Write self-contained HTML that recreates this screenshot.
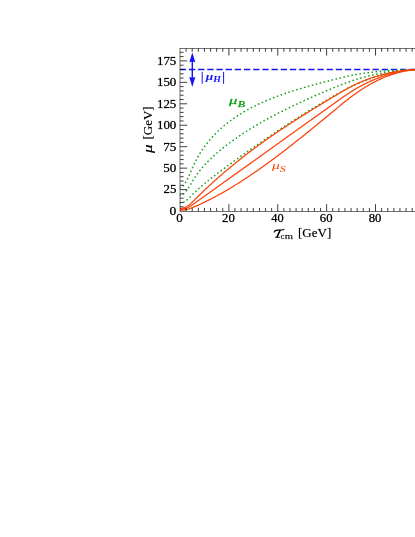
<!DOCTYPE html>
<html><head><meta charset="utf-8"><title>plot</title>
<style>
html,body{margin:0;padding:0;background:#fff;}
body{width:415px;height:537px;overflow:hidden;}
svg{display:block;will-change:transform;}
text{font-family:"Liberation Serif",serif;}
</style></head><body>
<svg width="415" height="537" viewBox="0 0 415 537">
<rect width="415" height="537" fill="#fff"/>
<path d="M180.0,69.48H424.38" stroke="#1414f5" stroke-width="1.3" stroke-dasharray="6.3 2.88" stroke-dashoffset="0.28" fill="none"/>
<g fill="none" stroke="#10a018" stroke-width="1.45" stroke-dasharray="1.55 2.53" stroke-dashoffset="0.8" stroke-linejoin="round">
<path d="M180.00,187.67 L180.61,187.64 L181.22,187.45 L181.83,187.13 L182.44,186.67 L183.05,186.09 L183.67,185.39 L184.28,184.58 L184.89,183.68 L185.50,182.70 L186.11,181.64 L186.72,180.51 L187.33,179.32 L187.94,178.09 L188.55,176.81 L189.16,175.49 L189.78,174.14 L190.39,172.75 L191.00,171.34 L191.61,169.91 L192.22,168.46 L192.83,167.03 L193.44,165.66 L194.05,164.33 L194.66,163.05 L195.27,161.81 L195.88,160.61 L196.50,159.45 L197.11,158.31 L197.72,157.21 L198.33,156.14 L198.94,155.10 L199.55,154.08 L200.16,153.08 L200.77,152.11 L201.38,151.17 L201.99,150.24 L202.60,149.33 L203.22,148.44 L203.83,147.57 L204.44,146.72 L205.05,145.88 L205.66,145.06 L206.27,144.26 L206.88,143.47 L207.49,142.70 L208.10,141.93 L208.71,141.19 L209.32,140.45 L209.94,139.73 L210.55,139.02 L211.16,138.32 L211.77,137.63 L212.38,136.95 L212.99,136.29 L213.60,135.63 L214.21,134.99 L214.82,134.35 L215.43,133.72 L216.05,133.10 L216.66,132.49 L217.27,131.89 L217.88,131.30 L218.49,130.72 L219.10,130.14 L219.71,129.58 L220.32,129.02 L220.93,128.46 L221.54,127.92 L222.15,127.38 L222.77,126.85 L223.38,126.32 L223.99,125.81 L224.60,125.29 L225.21,124.79 L225.82,124.29 L226.43,123.80 L227.04,123.31 L227.65,122.83 L228.26,122.36 L228.88,121.89 L229.49,121.42 L230.10,120.96 L230.71,120.51 L231.32,120.06 L231.93,119.62 L232.54,119.18 L233.15,118.75 L233.76,118.32 L234.37,117.89 L234.98,117.48 L235.60,117.06 L236.21,116.65 L236.82,116.25 L237.43,115.84 L238.04,115.45 L238.65,115.05 L239.26,114.66 L239.87,114.28 L240.48,113.90 L241.09,113.52 L241.70,113.15 L242.32,112.78 L242.93,112.41 L243.54,112.05 L244.15,111.69 L244.76,111.34 L245.37,110.98 L245.98,110.64 L246.59,110.29 L247.20,109.95 L247.81,109.61 L248.43,109.27 L249.04,108.94 L249.65,108.61 L250.26,108.29 L250.87,107.96 L251.48,107.64 L252.09,107.33 L252.70,107.01 L253.31,106.70 L253.92,106.39 L254.53,106.09 L255.15,105.78 L255.76,105.48 L256.37,105.18 L256.98,104.89 L257.59,104.59 L258.20,104.30 L258.81,104.02 L259.42,103.73 L260.03,103.45 L260.64,103.17 L261.25,102.89 L261.87,102.61 L262.48,102.34 L263.09,102.07 L263.70,101.80 L264.31,101.53 L264.92,101.26 L265.53,101.00 L266.14,100.74 L266.75,100.48 L267.36,100.22 L267.98,99.97 L268.59,99.71 L269.20,99.46 L269.81,99.21 L270.42,98.96 L271.03,98.72 L271.64,98.48 L272.25,98.23 L272.86,97.99 L273.47,97.75 L274.08,97.52 L274.70,97.28 L275.31,97.05 L275.92,96.82 L276.53,96.59 L277.14,96.36 L277.75,96.13 L278.36,95.90 L278.97,95.68 L279.58,95.46 L280.19,95.24 L280.80,95.02 L281.42,94.80 L282.03,94.58 L282.64,94.37 L283.25,94.15 L283.86,93.94 L284.47,93.73 L285.08,93.52 L285.69,93.31 L286.30,93.10 L286.91,92.89 L287.52,92.69 L288.14,92.49 L288.75,92.28 L289.36,92.08 L289.97,91.88 L290.58,91.68 L291.19,91.48 L291.80,91.29 L292.41,91.09 L293.02,90.90 L293.63,90.70 L294.25,90.51 L294.86,90.32 L295.47,90.13 L296.08,89.94 L296.69,89.75 L297.30,89.56 L297.91,89.38 L298.52,89.19 L299.13,89.01 L299.74,88.82 L300.35,88.64 L300.97,88.46 L301.58,88.28 L302.19,88.09 L302.80,87.91 L303.41,87.74 L304.02,87.56 L304.63,87.38 L305.24,87.20 L305.85,87.03 L306.46,86.85 L307.07,86.68 L307.69,86.51 L308.30,86.33 L308.91,86.16 L309.52,85.99 L310.13,85.82 L310.74,85.65 L311.35,85.48 L311.96,85.31 L312.57,85.14 L313.18,84.97 L313.80,84.81 L314.41,84.64 L315.02,84.47 L315.63,84.31 L316.24,84.14 L316.85,83.98 L317.46,83.81 L318.07,83.65 L318.68,83.49 L319.29,83.33 L319.90,83.16 L320.52,83.00 L321.13,82.84 L321.74,82.68 L322.35,82.52 L322.96,82.36 L323.57,82.20 L324.18,82.04 L324.79,81.88 L325.40,81.72 L326.01,81.57 L326.62,81.41 L327.24,81.25 L327.85,81.09 L328.46,80.94 L329.07,80.78 L329.68,80.63 L330.29,80.47 L330.90,80.31 L331.51,80.16 L332.12,80.00 L332.73,79.85 L333.35,79.70 L333.96,79.54 L334.57,79.39 L335.18,79.23 L335.79,79.08 L336.40,78.93 L337.01,78.77 L337.62,78.62 L338.23,78.47 L338.84,78.31 L339.45,78.16 L340.07,78.01 L340.68,77.86 L341.29,77.70 L341.90,77.55 L342.51,77.40 L343.12,77.26 L343.73,77.11 L344.34,76.97 L344.95,76.83 L345.56,76.69 L346.18,76.55 L346.79,76.42 L347.40,76.28 L348.01,76.15 L348.62,76.02 L349.23,75.89 L349.84,75.77 L350.45,75.64 L351.06,75.52 L351.67,75.40 L352.28,75.28 L352.90,75.16 L353.51,75.04 L354.12,74.93 L354.73,74.82 L355.34,74.71 L355.95,74.60 L356.56,74.49 L357.17,74.38 L357.78,74.28 L358.39,74.17 L359.00,74.07 L359.62,73.97 L360.23,73.87 L360.84,73.77 L361.45,73.68 L362.06,73.58 L362.67,73.49 L363.28,73.40 L363.89,73.31 L364.50,73.22 L365.11,73.13 L365.73,73.04 L366.34,72.96 L366.95,72.87 L367.56,72.79 L368.17,72.71 L368.78,72.63 L369.39,72.55 L370.00,72.47 L370.61,72.40 L371.22,72.32 L371.83,72.25 L372.45,72.17 L373.06,72.10 L373.67,72.03 L374.28,71.96 L374.89,71.89 L375.50,71.83 L376.11,71.76 L376.72,71.70 L377.33,71.63 L377.94,71.57 L378.55,71.51 L379.17,71.45 L379.78,71.39 L380.39,71.33 L381.00,71.27 L381.61,71.22 L382.22,71.16 L382.83,71.11 L383.44,71.05 L384.05,71.00 L384.66,70.95 L385.27,70.90 L385.89,70.85 L386.50,70.80 L387.11,70.76 L387.72,70.71 L388.33,70.67 L388.94,70.62 L389.55,70.58 L390.16,70.54 L390.77,70.49 L391.38,70.45 L392.00,70.41 L392.61,70.37 L393.22,70.34 L393.83,70.30 L394.44,70.26 L395.05,70.23 L395.66,70.19 L396.27,70.16 L396.88,70.13 L397.49,70.10 L398.10,70.06 L398.72,70.03 L399.33,70.00 L399.94,69.98 L400.55,69.95 L401.16,69.92 L401.77,69.90 L402.38,69.87 L402.99,69.85 L403.60,69.82 L404.21,69.80 L404.83,69.78 L405.44,69.76 L406.05,69.74 L406.66,69.72 L407.27,69.70 L407.88,69.68 L408.49,69.66 L409.10,69.65 L409.71,69.63 L410.32,69.62 L410.93,69.60 L411.55,69.59 L412.16,69.58 L412.77,69.56 L413.38,69.55 L413.99,69.54 L414.60,69.53 L415.21,69.53 L415.82,69.52 L416.43,69.51 L417.04,69.50 L417.65,69.50 L418.27,69.49 L418.88,69.49 L419.49,69.49 L420.10,69.48 L420.71,69.48 L421.32,69.48 L421.93,69.48 L422.54,69.48 L423.15,69.48 L423.76,69.48 L424.38,69.48"/><path d="M180.00,195.46 L180.61,195.41 L181.22,195.27 L181.83,195.02 L182.44,194.69 L183.05,194.27 L183.67,193.77 L184.28,193.20 L184.89,192.56 L185.50,191.86 L186.11,191.11 L186.72,190.31 L187.33,189.47 L187.94,188.59 L188.55,187.68 L189.16,186.74 L189.78,185.77 L190.39,184.78 L191.00,183.77 L191.61,182.74 L192.22,181.70 L192.83,180.66 L193.44,179.66 L194.05,178.69 L194.66,177.75 L195.27,176.83 L195.88,175.94 L196.50,175.07 L197.11,174.22 L197.72,173.39 L198.33,172.57 L198.94,171.78 L199.55,171.00 L200.16,170.23 L200.77,169.48 L201.38,168.74 L201.99,168.02 L202.60,167.31 L203.22,166.60 L203.83,165.91 L204.44,165.23 L205.05,164.56 L205.66,163.90 L206.27,163.25 L206.88,162.61 L207.49,161.97 L208.10,161.35 L208.71,160.73 L209.32,160.12 L209.94,159.51 L210.55,158.92 L211.16,158.33 L211.77,157.74 L212.38,157.17 L212.99,156.60 L213.60,156.03 L214.21,155.47 L214.82,154.92 L215.43,154.37 L216.05,153.83 L216.66,153.29 L217.27,152.75 L217.88,152.23 L218.49,151.70 L219.10,151.18 L219.71,150.67 L220.32,150.16 L220.93,149.65 L221.54,149.15 L222.15,148.65 L222.77,148.16 L223.38,147.67 L223.99,147.18 L224.60,146.70 L225.21,146.22 L225.82,145.75 L226.43,145.27 L227.04,144.81 L227.65,144.34 L228.26,143.88 L228.88,143.42 L229.49,142.96 L230.10,142.51 L230.71,142.06 L231.32,141.61 L231.93,141.17 L232.54,140.73 L233.15,140.29 L233.76,139.85 L234.37,139.42 L234.98,138.99 L235.60,138.56 L236.21,138.14 L236.82,137.71 L237.43,137.29 L238.04,136.87 L238.65,136.46 L239.26,136.04 L239.87,135.63 L240.48,135.22 L241.09,134.82 L241.70,134.41 L242.32,134.01 L242.93,133.61 L243.54,133.21 L244.15,132.81 L244.76,132.42 L245.37,132.03 L245.98,131.64 L246.59,131.25 L247.20,130.86 L247.81,130.48 L248.43,130.09 L249.04,129.71 L249.65,129.33 L250.26,128.96 L250.87,128.58 L251.48,128.21 L252.09,127.83 L252.70,127.46 L253.31,127.09 L253.92,126.72 L254.53,126.36 L255.15,125.99 L255.76,125.63 L256.37,125.27 L256.98,124.91 L257.59,124.55 L258.20,124.19 L258.81,123.84 L259.42,123.49 L260.03,123.13 L260.64,122.78 L261.25,122.43 L261.87,122.08 L262.48,121.74 L263.09,121.39 L263.70,121.05 L264.31,120.70 L264.92,120.36 L265.53,120.02 L266.14,119.68 L266.75,119.34 L267.36,119.01 L267.98,118.67 L268.59,118.34 L269.20,118.00 L269.81,117.67 L270.42,117.34 L271.03,117.01 L271.64,116.68 L272.25,116.36 L272.86,116.03 L273.47,115.70 L274.08,115.38 L274.70,115.06 L275.31,114.74 L275.92,114.42 L276.53,114.10 L277.14,113.78 L277.75,113.46 L278.36,113.14 L278.97,112.83 L279.58,112.51 L280.19,112.20 L280.80,111.89 L281.42,111.58 L282.03,111.27 L282.64,110.96 L283.25,110.65 L283.86,110.34 L284.47,110.03 L285.08,109.73 L285.69,109.42 L286.30,109.12 L286.91,108.82 L287.52,108.51 L288.14,108.21 L288.75,107.91 L289.36,107.61 L289.97,107.31 L290.58,107.02 L291.19,106.72 L291.80,106.42 L292.41,106.13 L293.02,105.83 L293.63,105.54 L294.25,105.25 L294.86,104.95 L295.47,104.66 L296.08,104.37 L296.69,104.08 L297.30,103.79 L297.91,103.51 L298.52,103.22 L299.13,102.93 L299.74,102.65 L300.35,102.36 L300.97,102.08 L301.58,101.79 L302.19,101.51 L302.80,101.23 L303.41,100.95 L304.02,100.67 L304.63,100.39 L305.24,100.11 L305.85,99.83 L306.46,99.55 L307.07,99.28 L307.69,99.00 L308.30,98.72 L308.91,98.45 L309.52,98.17 L310.13,97.90 L310.74,97.63 L311.35,97.35 L311.96,97.08 L312.57,96.81 L313.18,96.54 L313.80,96.27 L314.41,96.00 L315.02,95.73 L315.63,95.47 L316.24,95.20 L316.85,94.93 L317.46,94.66 L318.07,94.40 L318.68,94.13 L319.29,93.87 L319.90,93.61 L320.52,93.34 L321.13,93.08 L321.74,92.82 L322.35,92.56 L322.96,92.30 L323.57,92.04 L324.18,91.78 L324.79,91.52 L325.40,91.26 L326.01,91.00 L326.62,90.74 L327.24,90.49 L327.85,90.23 L328.46,89.97 L329.07,89.72 L329.68,89.46 L330.29,89.21 L330.90,88.96 L331.51,88.70 L332.12,88.45 L332.73,88.20 L333.35,87.95 L333.96,87.70 L334.57,87.45 L335.18,87.20 L335.79,86.95 L336.40,86.70 L337.01,86.45 L337.62,86.20 L338.23,85.95 L338.84,85.71 L339.45,85.46 L340.07,85.21 L340.68,84.97 L341.29,84.72 L341.90,84.48 L342.51,84.24 L343.12,84.00 L343.73,83.76 L344.34,83.53 L344.95,83.30 L345.56,83.07 L346.18,82.84 L346.79,82.61 L347.40,82.39 L348.01,82.17 L348.62,81.95 L349.23,81.73 L349.84,81.52 L350.45,81.30 L351.06,81.09 L351.67,80.89 L352.28,80.68 L352.90,80.48 L353.51,80.27 L354.12,80.07 L354.73,79.88 L355.34,79.68 L355.95,79.49 L356.56,79.30 L357.17,79.11 L357.78,78.92 L358.39,78.74 L359.00,78.55 L359.62,78.37 L360.23,78.19 L360.84,78.01 L361.45,77.84 L362.06,77.67 L362.67,77.50 L363.28,77.33 L363.89,77.16 L364.50,76.99 L365.11,76.83 L365.73,76.67 L366.34,76.51 L366.95,76.35 L367.56,76.20 L368.17,76.04 L368.78,75.89 L369.39,75.74 L370.00,75.59 L370.61,75.45 L371.22,75.30 L371.83,75.16 L372.45,75.02 L373.06,74.88 L373.67,74.74 L374.28,74.61 L374.89,74.48 L375.50,74.34 L376.11,74.22 L376.72,74.09 L377.33,73.96 L377.94,73.84 L378.55,73.72 L379.17,73.60 L379.78,73.48 L380.39,73.36 L381.00,73.25 L381.61,73.13 L382.22,73.02 L382.83,72.91 L383.44,72.80 L384.05,72.70 L384.66,72.59 L385.27,72.49 L385.89,72.39 L386.50,72.29 L387.11,72.20 L387.72,72.10 L388.33,72.01 L388.94,71.91 L389.55,71.82 L390.16,71.74 L390.77,71.65 L391.38,71.56 L392.00,71.48 L392.61,71.40 L393.22,71.32 L393.83,71.24 L394.44,71.17 L395.05,71.09 L395.66,71.02 L396.27,70.95 L396.88,70.88 L397.49,70.81 L398.10,70.74 L398.72,70.68 L399.33,70.62 L399.94,70.56 L400.55,70.50 L401.16,70.44 L401.77,70.38 L402.38,70.33 L402.99,70.28 L403.60,70.23 L404.21,70.18 L404.83,70.13 L405.44,70.08 L406.05,70.04 L406.66,70.00 L407.27,69.96 L407.88,69.92 L408.49,69.88 L409.10,69.85 L409.71,69.81 L410.32,69.78 L410.93,69.75 L411.55,69.72 L412.16,69.69 L412.77,69.67 L413.38,69.64 L413.99,69.62 L414.60,69.60 L415.21,69.58 L415.82,69.56 L416.43,69.55 L417.04,69.53 L417.65,69.52 L418.27,69.51 L418.88,69.50 L419.49,69.49 L420.10,69.49 L420.71,69.48 L421.32,69.48 L421.93,69.48 L422.54,69.48 L423.15,69.48 L423.76,69.48 L424.38,69.48"/><path d="M180.00,203.26 L180.61,203.19 L181.22,203.08 L181.83,202.92 L182.44,202.71 L183.05,202.45 L183.67,202.15 L184.28,201.81 L184.89,201.43 L185.50,201.02 L186.11,200.58 L186.72,200.11 L187.33,199.62 L187.94,199.10 L188.55,198.55 L189.16,197.99 L189.78,197.41 L190.39,196.81 L191.00,196.20 L191.61,195.57 L192.22,194.93 L192.83,194.29 L193.44,193.66 L194.05,193.04 L194.66,192.44 L195.27,191.85 L195.88,191.26 L196.50,190.69 L197.11,190.12 L197.72,189.56 L198.33,189.01 L198.94,188.46 L199.55,187.92 L200.16,187.38 L200.77,186.85 L201.38,186.32 L201.99,185.80 L202.60,185.28 L203.22,184.77 L203.83,184.26 L204.44,183.75 L205.05,183.24 L205.66,182.74 L206.27,182.24 L206.88,181.75 L207.49,181.25 L208.10,180.76 L208.71,180.27 L209.32,179.78 L209.94,179.30 L210.55,178.82 L211.16,178.34 L211.77,177.86 L212.38,177.38 L212.99,176.90 L213.60,176.43 L214.21,175.96 L214.82,175.49 L215.43,175.02 L216.05,174.55 L216.66,174.08 L217.27,173.61 L217.88,173.15 L218.49,172.69 L219.10,172.22 L219.71,171.76 L220.32,171.30 L220.93,170.84 L221.54,170.38 L222.15,169.93 L222.77,169.47 L223.38,169.01 L223.99,168.56 L224.60,168.11 L225.21,167.65 L225.82,167.20 L226.43,166.75 L227.04,166.30 L227.65,165.85 L228.26,165.40 L228.88,164.95 L229.49,164.50 L230.10,164.06 L230.71,163.61 L231.32,163.16 L231.93,162.72 L232.54,162.28 L233.15,161.83 L233.76,161.39 L234.37,160.95 L234.98,160.50 L235.60,160.06 L236.21,159.62 L236.82,159.18 L237.43,158.74 L238.04,158.30 L238.65,157.86 L239.26,157.42 L239.87,156.99 L240.48,156.55 L241.09,156.11 L241.70,155.68 L242.32,155.24 L242.93,154.81 L243.54,154.37 L244.15,153.94 L244.76,153.50 L245.37,153.07 L245.98,152.64 L246.59,152.21 L247.20,151.78 L247.81,151.34 L248.43,150.91 L249.04,150.48 L249.65,150.05 L250.26,149.62 L250.87,149.19 L251.48,148.77 L252.09,148.34 L252.70,147.91 L253.31,147.48 L253.92,147.06 L254.53,146.63 L255.15,146.21 L255.76,145.78 L256.37,145.36 L256.98,144.93 L257.59,144.51 L258.20,144.09 L258.81,143.66 L259.42,143.24 L260.03,142.82 L260.64,142.40 L261.25,141.98 L261.87,141.56 L262.48,141.14 L263.09,140.72 L263.70,140.30 L264.31,139.88 L264.92,139.46 L265.53,139.04 L266.14,138.62 L266.75,138.21 L267.36,137.79 L267.98,137.38 L268.59,136.96 L269.20,136.55 L269.81,136.13 L270.42,135.72 L271.03,135.30 L271.64,134.89 L272.25,134.48 L272.86,134.07 L273.47,133.66 L274.08,133.25 L274.70,132.83 L275.31,132.42 L275.92,132.02 L276.53,131.61 L277.14,131.20 L277.75,130.79 L278.36,130.38 L278.97,129.98 L279.58,129.57 L280.19,129.16 L280.80,128.76 L281.42,128.35 L282.03,127.95 L282.64,127.55 L283.25,127.14 L283.86,126.74 L284.47,126.34 L285.08,125.94 L285.69,125.54 L286.30,125.14 L286.91,124.74 L287.52,124.34 L288.14,123.94 L288.75,123.54 L289.36,123.14 L289.97,122.75 L290.58,122.35 L291.19,121.95 L291.80,121.56 L292.41,121.16 L293.02,120.77 L293.63,120.38 L294.25,119.98 L294.86,119.59 L295.47,119.20 L296.08,118.81 L296.69,118.42 L297.30,118.03 L297.91,117.64 L298.52,117.25 L299.13,116.86 L299.74,116.47 L300.35,116.09 L300.97,115.70 L301.58,115.31 L302.19,114.93 L302.80,114.54 L303.41,114.16 L304.02,113.78 L304.63,113.39 L305.24,113.01 L305.85,112.63 L306.46,112.25 L307.07,111.87 L307.69,111.49 L308.30,111.11 L308.91,110.74 L309.52,110.36 L310.13,109.98 L310.74,109.61 L311.35,109.23 L311.96,108.86 L312.57,108.48 L313.18,108.11 L313.80,107.74 L314.41,107.36 L315.02,106.99 L315.63,106.62 L316.24,106.25 L316.85,105.88 L317.46,105.52 L318.07,105.15 L318.68,104.78 L319.29,104.42 L319.90,104.05 L320.52,103.69 L321.13,103.32 L321.74,102.96 L322.35,102.60 L322.96,102.23 L323.57,101.87 L324.18,101.51 L324.79,101.15 L325.40,100.79 L326.01,100.44 L326.62,100.08 L327.24,99.72 L327.85,99.37 L328.46,99.01 L329.07,98.66 L329.68,98.30 L330.29,97.95 L330.90,97.60 L331.51,97.25 L332.12,96.90 L332.73,96.55 L333.35,96.20 L333.96,95.85 L334.57,95.51 L335.18,95.16 L335.79,94.81 L336.40,94.47 L337.01,94.13 L337.62,93.78 L338.23,93.44 L338.84,93.10 L339.45,92.76 L340.07,92.42 L340.68,92.08 L341.29,91.74 L341.90,91.40 L342.51,91.07 L343.12,90.74 L343.73,90.41 L344.34,90.09 L344.95,89.76 L345.56,89.44 L346.18,89.12 L346.79,88.81 L347.40,88.49 L348.01,88.18 L348.62,87.88 L349.23,87.57 L349.84,87.27 L350.45,86.97 L351.06,86.67 L351.67,86.37 L352.28,86.08 L352.90,85.79 L353.51,85.51 L354.12,85.22 L354.73,84.94 L355.34,84.66 L355.95,84.38 L356.56,84.11 L357.17,83.83 L357.78,83.57 L358.39,83.30 L359.00,83.03 L359.62,82.77 L360.23,82.51 L360.84,82.26 L361.45,82.00 L362.06,81.75 L362.67,81.50 L363.28,81.26 L363.89,81.01 L364.50,80.77 L365.11,80.53 L365.73,80.30 L366.34,80.06 L366.95,79.83 L367.56,79.60 L368.17,79.38 L368.78,79.15 L369.39,78.93 L370.00,78.71 L370.61,78.50 L371.22,78.28 L371.83,78.07 L372.45,77.86 L373.06,77.66 L373.67,77.46 L374.28,77.26 L374.89,77.06 L375.50,76.86 L376.11,76.67 L376.72,76.48 L377.33,76.29 L377.94,76.11 L378.55,75.92 L379.17,75.74 L379.78,75.57 L380.39,75.39 L381.00,75.22 L381.61,75.05 L382.22,74.88 L382.83,74.72 L383.44,74.55 L384.05,74.39 L384.66,74.24 L385.27,74.08 L385.89,73.93 L386.50,73.78 L387.11,73.63 L387.72,73.49 L388.33,73.35 L388.94,73.21 L389.55,73.07 L390.16,72.94 L390.77,72.81 L391.38,72.68 L392.00,72.55 L392.61,72.43 L393.22,72.30 L393.83,72.19 L394.44,72.07 L395.05,71.96 L395.66,71.84 L396.27,71.74 L396.88,71.63 L397.49,71.53 L398.10,71.43 L398.72,71.33 L399.33,71.23 L399.94,71.14 L400.55,71.05 L401.16,70.96 L401.77,70.87 L402.38,70.79 L402.99,70.71 L403.60,70.63 L404.21,70.56 L404.83,70.48 L405.44,70.41 L406.05,70.34 L406.66,70.28 L407.27,70.22 L407.88,70.16 L408.49,70.10 L409.10,70.04 L409.71,69.99 L410.32,69.94 L410.93,69.89 L411.55,69.85 L412.16,69.81 L412.77,69.77 L413.38,69.73 L413.99,69.70 L414.60,69.66 L415.21,69.63 L415.82,69.61 L416.43,69.58 L417.04,69.56 L417.65,69.54 L418.27,69.53 L418.88,69.51 L419.49,69.50 L420.10,69.49 L420.71,69.49 L421.32,69.48 L421.93,69.48 L422.54,69.48 L423.15,69.48 L423.76,69.48 L424.38,69.48"/>
</g>
<g fill="none" stroke="#fd4108" stroke-width="1.25" stroke-linejoin="round">
<path d="M180.00,208.48 L180.61,208.46 L181.22,208.42 L181.83,208.34 L182.44,208.23 L183.05,208.09 L183.67,207.92 L184.28,207.71 L184.89,207.48 L185.50,207.21 L186.11,206.91 L186.72,206.58 L187.33,206.21 L187.94,205.82 L188.55,205.40 L189.16,204.94 L189.78,204.46 L190.39,203.94 L191.00,203.40 L191.61,202.82 L192.22,202.22 L192.83,201.60 L193.44,200.99 L194.05,200.37 L194.66,199.76 L195.27,199.15 L195.88,198.54 L196.50,197.93 L197.11,197.33 L197.72,196.73 L198.33,196.13 L198.94,195.53 L199.55,194.93 L200.16,194.34 L200.77,193.75 L201.38,193.15 L201.99,192.57 L202.60,191.98 L203.22,191.39 L203.83,190.81 L204.44,190.23 L205.05,189.65 L205.66,189.07 L206.27,188.50 L206.88,187.93 L207.49,187.35 L208.10,186.78 L208.71,186.22 L209.32,185.65 L209.94,185.09 L210.55,184.52 L211.16,183.96 L211.77,183.40 L212.38,182.85 L212.99,182.29 L213.60,181.74 L214.21,181.19 L214.82,180.64 L215.43,180.09 L216.05,179.54 L216.66,179.00 L217.27,178.46 L217.88,177.91 L218.49,177.37 L219.10,176.84 L219.71,176.30 L220.32,175.77 L220.93,175.23 L221.54,174.70 L222.15,174.17 L222.77,173.64 L223.38,173.12 L223.99,172.59 L224.60,172.07 L225.21,171.55 L225.82,171.03 L226.43,170.51 L227.04,169.99 L227.65,169.48 L228.26,168.97 L228.88,168.45 L229.49,167.94 L230.10,167.44 L230.71,166.93 L231.32,166.42 L231.93,165.92 L232.54,165.42 L233.15,164.91 L233.76,164.41 L234.37,163.92 L234.98,163.42 L235.60,162.92 L236.21,162.43 L236.82,161.94 L237.43,161.45 L238.04,160.96 L238.65,160.47 L239.26,159.98 L239.87,159.50 L240.48,159.01 L241.09,158.53 L241.70,158.05 L242.32,157.57 L242.93,157.09 L243.54,156.62 L244.15,156.14 L244.76,155.67 L245.37,155.19 L245.98,154.72 L246.59,154.25 L247.20,153.78 L247.81,153.32 L248.43,152.85 L249.04,152.39 L249.65,151.92 L250.26,151.46 L250.87,151.00 L251.48,150.54 L252.09,150.08 L252.70,149.62 L253.31,149.17 L253.92,148.71 L254.53,148.26 L255.15,147.80 L255.76,147.35 L256.37,146.90 L256.98,146.45 L257.59,146.01 L258.20,145.56 L258.81,145.11 L259.42,144.67 L260.03,144.23 L260.64,143.78 L261.25,143.34 L261.87,142.90 L262.48,142.47 L263.09,142.03 L263.70,141.59 L264.31,141.16 L264.92,140.72 L265.53,140.29 L266.14,139.86 L266.75,139.42 L267.36,138.99 L267.98,138.56 L268.59,138.14 L269.20,137.71 L269.81,137.28 L270.42,136.86 L271.03,136.43 L271.64,136.01 L272.25,135.59 L272.86,135.17 L273.47,134.75 L274.08,134.33 L274.70,133.91 L275.31,133.49 L275.92,133.08 L276.53,132.66 L277.14,132.24 L277.75,131.83 L278.36,131.42 L278.97,131.01 L279.58,130.59 L280.19,130.18 L280.80,129.77 L281.42,129.37 L282.03,128.96 L282.64,128.55 L283.25,128.15 L283.86,127.74 L284.47,127.34 L285.08,126.93 L285.69,126.53 L286.30,126.13 L286.91,125.72 L287.52,125.32 L288.14,124.92 L288.75,124.52 L289.36,124.13 L289.97,123.73 L290.58,123.33 L291.19,122.94 L291.80,122.54 L292.41,122.15 L293.02,121.75 L293.63,121.36 L294.25,120.96 L294.86,120.57 L295.47,120.18 L296.08,119.79 L296.69,119.40 L297.30,119.01 L297.91,118.62 L298.52,118.23 L299.13,117.84 L299.74,117.46 L300.35,117.07 L300.97,116.68 L301.58,116.30 L302.19,115.91 L302.80,115.53 L303.41,115.15 L304.02,114.76 L304.63,114.38 L305.24,114.00 L305.85,113.62 L306.46,113.23 L307.07,112.85 L307.69,112.47 L308.30,112.09 L308.91,111.71 L309.52,111.34 L310.13,110.96 L310.74,110.58 L311.35,110.20 L311.96,109.82 L312.57,109.45 L313.18,109.07 L313.80,108.70 L314.41,108.32 L315.02,107.95 L315.63,107.57 L316.24,107.20 L316.85,106.82 L317.46,106.45 L318.07,106.08 L318.68,105.70 L319.29,105.33 L319.90,104.96 L320.52,104.59 L321.13,104.21 L321.74,103.84 L322.35,103.47 L322.96,103.10 L323.57,102.73 L324.18,102.36 L324.79,101.99 L325.40,101.62 L326.01,101.25 L326.62,100.88 L327.24,100.51 L327.85,100.14 L328.46,99.77 L329.07,99.41 L329.68,99.04 L330.29,98.67 L330.90,98.30 L331.51,97.93 L332.12,97.57 L332.73,97.20 L333.35,96.83 L333.96,96.46 L334.57,96.10 L335.18,95.73 L335.79,95.36 L336.40,95.00 L337.01,94.63 L337.62,94.26 L338.23,93.89 L338.84,93.53 L339.45,93.16 L340.07,92.80 L340.68,92.43 L341.29,92.06 L341.90,91.70 L342.51,91.34 L343.12,90.98 L343.73,90.62 L344.34,90.27 L344.95,89.93 L345.56,89.58 L346.18,89.24 L346.79,88.90 L347.40,88.57 L348.01,88.24 L348.62,87.91 L349.23,87.59 L349.84,87.27 L350.45,86.95 L351.06,86.64 L351.67,86.33 L352.28,86.02 L352.90,85.72 L353.51,85.41 L354.12,85.12 L354.73,84.82 L355.34,84.53 L355.95,84.24 L356.56,83.96 L357.17,83.68 L357.78,83.40 L358.39,83.12 L359.00,82.85 L359.62,82.58 L360.23,82.31 L360.84,82.05 L361.45,81.79 L362.06,81.53 L362.67,81.28 L363.28,81.03 L363.89,80.78 L364.50,80.53 L365.11,80.29 L365.73,80.05 L366.34,79.81 L366.95,79.58 L367.56,79.35 L368.17,79.12 L368.78,78.90 L369.39,78.67 L370.00,78.46 L370.61,78.24 L371.22,78.03 L371.83,77.81 L372.45,77.61 L373.06,77.40 L373.67,77.20 L374.28,77.00 L374.89,76.80 L375.50,76.61 L376.11,76.42 L376.72,76.23 L377.33,76.05 L377.94,75.86 L378.55,75.68 L379.17,75.51 L379.78,75.33 L380.39,75.16 L381.00,74.99 L381.61,74.83 L382.22,74.66 L382.83,74.50 L383.44,74.34 L384.05,74.19 L384.66,74.03 L385.27,73.88 L385.89,73.74 L386.50,73.59 L387.11,73.45 L387.72,73.31 L388.33,73.17 L388.94,73.04 L389.55,72.90 L390.16,72.77 L390.77,72.65 L391.38,72.52 L392.00,72.40 L392.61,72.28 L393.22,72.17 L393.83,72.05 L394.44,71.94 L395.05,71.83 L395.66,71.72 L396.27,71.62 L396.88,71.52 L397.49,71.42 L398.10,71.32 L398.72,71.23 L399.33,71.14 L399.94,71.05 L400.55,70.96 L401.16,70.88 L401.77,70.80 L402.38,70.72 L402.99,70.64 L403.60,70.57 L404.21,70.50 L404.83,70.43 L405.44,70.36 L406.05,70.30 L406.66,70.23 L407.27,70.18 L407.88,70.12 L408.49,70.06 L409.10,70.01 L409.71,69.96 L410.32,69.92 L410.93,69.87 L411.55,69.83 L412.16,69.79 L412.77,69.75 L413.38,69.72 L413.99,69.68 L414.60,69.65 L415.21,69.63 L415.82,69.60 L416.43,69.58 L417.04,69.56 L417.65,69.54 L418.27,69.52 L418.88,69.51 L419.49,69.50 L420.10,69.49 L420.71,69.48 L421.32,69.48 L421.93,69.48 L422.54,69.48 L423.15,69.48 L423.76,69.48 L424.38,69.48"/><path d="M180.00,209.33 L180.61,209.32 L181.22,209.29 L181.83,209.24 L182.44,209.16 L183.05,209.06 L183.67,208.94 L184.28,208.80 L184.89,208.63 L185.50,208.45 L186.11,208.24 L186.72,208.01 L187.33,207.76 L187.94,207.49 L188.55,207.19 L189.16,206.88 L189.78,206.54 L190.39,206.18 L191.00,205.79 L191.61,205.39 L192.22,204.96 L192.83,204.53 L193.44,204.09 L194.05,203.65 L194.66,203.22 L195.27,202.78 L195.88,202.34 L196.50,201.90 L197.11,201.47 L197.72,201.03 L198.33,200.59 L198.94,200.16 L199.55,199.72 L200.16,199.28 L200.77,198.84 L201.38,198.41 L201.99,197.97 L202.60,197.53 L203.22,197.10 L203.83,196.66 L204.44,196.22 L205.05,195.79 L205.66,195.35 L206.27,194.91 L206.88,194.47 L207.49,194.04 L208.10,193.60 L208.71,193.16 L209.32,192.73 L209.94,192.29 L210.55,191.85 L211.16,191.42 L211.77,190.98 L212.38,190.54 L212.99,190.10 L213.60,189.67 L214.21,189.23 L214.82,188.79 L215.43,188.36 L216.05,187.92 L216.66,187.48 L217.27,187.04 L217.88,186.61 L218.49,186.17 L219.10,185.73 L219.71,185.30 L220.32,184.86 L220.93,184.42 L221.54,183.99 L222.15,183.55 L222.77,183.11 L223.38,182.67 L223.99,182.24 L224.60,181.80 L225.21,181.36 L225.82,180.93 L226.43,180.49 L227.04,180.05 L227.65,179.62 L228.26,179.18 L228.88,178.74 L229.49,178.30 L230.10,177.87 L230.71,177.43 L231.32,176.99 L231.93,176.56 L232.54,176.12 L233.15,175.68 L233.76,175.24 L234.37,174.81 L234.98,174.37 L235.60,173.93 L236.21,173.50 L236.82,173.06 L237.43,172.62 L238.04,172.19 L238.65,171.75 L239.26,171.31 L239.87,170.87 L240.48,170.44 L241.09,170.00 L241.70,169.56 L242.32,169.13 L242.93,168.69 L243.54,168.25 L244.15,167.81 L244.76,167.38 L245.37,166.94 L245.98,166.50 L246.59,166.07 L247.20,165.63 L247.81,165.19 L248.43,164.76 L249.04,164.32 L249.65,163.88 L250.26,163.44 L250.87,163.01 L251.48,162.57 L252.09,162.13 L252.70,161.70 L253.31,161.26 L253.92,160.82 L254.53,160.39 L255.15,159.95 L255.76,159.51 L256.37,159.07 L256.98,158.64 L257.59,158.20 L258.20,157.76 L258.81,157.33 L259.42,156.89 L260.03,156.45 L260.64,156.01 L261.25,155.58 L261.87,155.14 L262.48,154.70 L263.09,154.27 L263.70,153.83 L264.31,153.39 L264.92,152.96 L265.53,152.52 L266.14,152.08 L266.75,151.64 L267.36,151.21 L267.98,150.77 L268.59,150.33 L269.20,149.90 L269.81,149.46 L270.42,149.02 L271.03,148.58 L271.64,148.15 L272.25,147.71 L272.86,147.27 L273.47,146.84 L274.08,146.40 L274.70,145.96 L275.31,145.53 L275.92,145.09 L276.53,144.65 L277.14,144.21 L277.75,143.78 L278.36,143.34 L278.97,142.90 L279.58,142.47 L280.19,142.03 L280.80,141.59 L281.42,141.16 L282.03,140.72 L282.64,140.28 L283.25,139.84 L283.86,139.41 L284.47,138.97 L285.08,138.53 L285.69,138.10 L286.30,137.66 L286.91,137.22 L287.52,136.78 L288.14,136.35 L288.75,135.91 L289.36,135.47 L289.97,135.04 L290.58,134.60 L291.19,134.16 L291.80,133.73 L292.41,133.29 L293.02,132.85 L293.63,132.41 L294.25,131.98 L294.86,131.54 L295.47,131.10 L296.08,130.67 L296.69,130.23 L297.30,129.79 L297.91,129.35 L298.52,128.92 L299.13,128.48 L299.74,128.04 L300.35,127.61 L300.97,127.17 L301.58,126.73 L302.19,126.30 L302.80,125.86 L303.41,125.42 L304.02,124.98 L304.63,124.55 L305.24,124.11 L305.85,123.67 L306.46,123.24 L307.07,122.80 L307.69,122.36 L308.30,121.93 L308.91,121.49 L309.52,121.05 L310.13,120.61 L310.74,120.18 L311.35,119.74 L311.96,119.30 L312.57,118.87 L313.18,118.43 L313.80,117.99 L314.41,117.55 L315.02,117.12 L315.63,116.68 L316.24,116.24 L316.85,115.81 L317.46,115.37 L318.07,114.93 L318.68,114.50 L319.29,114.06 L319.90,113.62 L320.52,113.18 L321.13,112.75 L321.74,112.31 L322.35,111.87 L322.96,111.44 L323.57,111.00 L324.18,110.56 L324.79,110.13 L325.40,109.69 L326.01,109.25 L326.62,108.81 L327.24,108.38 L327.85,107.94 L328.46,107.50 L329.07,107.07 L329.68,106.63 L330.29,106.19 L330.90,105.75 L331.51,105.32 L332.12,104.88 L332.73,104.44 L333.35,104.01 L333.96,103.57 L334.57,103.13 L335.18,102.70 L335.79,102.26 L336.40,101.82 L337.01,101.38 L337.62,100.95 L338.23,100.51 L338.84,100.07 L339.45,99.64 L340.07,99.20 L340.68,98.76 L341.29,98.32 L341.90,97.89 L342.51,97.46 L343.12,97.03 L343.73,96.60 L344.34,96.18 L344.95,95.76 L345.56,95.35 L346.18,94.93 L346.79,94.53 L347.40,94.12 L348.01,93.72 L348.62,93.32 L349.23,92.92 L349.84,92.53 L350.45,92.14 L351.06,91.76 L351.67,91.37 L352.28,90.99 L352.90,90.62 L353.51,90.25 L354.12,89.88 L354.73,89.51 L355.34,89.15 L355.95,88.79 L356.56,88.43 L357.17,88.08 L357.78,87.73 L358.39,87.39 L359.00,87.04 L359.62,86.70 L360.23,86.37 L360.84,86.03 L361.45,85.71 L362.06,85.38 L362.67,85.06 L363.28,84.74 L363.89,84.42 L364.50,84.11 L365.11,83.80 L365.73,83.49 L366.34,83.19 L366.95,82.89 L367.56,82.59 L368.17,82.30 L368.78,82.01 L369.39,81.72 L370.00,81.44 L370.61,81.16 L371.22,80.88 L371.83,80.61 L372.45,80.34 L373.06,80.08 L373.67,79.81 L374.28,79.55 L374.89,79.30 L375.50,79.04 L376.11,78.79 L376.72,78.55 L377.33,78.30 L377.94,78.06 L378.55,77.83 L379.17,77.59 L379.78,77.36 L380.39,77.13 L381.00,76.91 L381.61,76.69 L382.22,76.47 L382.83,76.26 L383.44,76.05 L384.05,75.84 L384.66,75.64 L385.27,75.44 L385.89,75.24 L386.50,75.05 L387.11,74.86 L387.72,74.67 L388.33,74.49 L388.94,74.31 L389.55,74.13 L390.16,73.96 L390.77,73.79 L391.38,73.62 L392.00,73.45 L392.61,73.29 L393.22,73.14 L393.83,72.98 L394.44,72.83 L395.05,72.68 L395.66,72.54 L396.27,72.40 L396.88,72.26 L397.49,72.13 L398.10,72.00 L398.72,71.87 L399.33,71.75 L399.94,71.63 L400.55,71.51 L401.16,71.39 L401.77,71.28 L402.38,71.18 L402.99,71.07 L403.60,70.97 L404.21,70.87 L404.83,70.78 L405.44,70.69 L406.05,70.60 L406.66,70.51 L407.27,70.43 L407.88,70.36 L408.49,70.28 L409.10,70.21 L409.71,70.14 L410.32,70.08 L410.93,70.02 L411.55,69.96 L412.16,69.90 L412.77,69.85 L413.38,69.80 L413.99,69.76 L414.60,69.72 L415.21,69.68 L415.82,69.65 L416.43,69.61 L417.04,69.59 L417.65,69.56 L418.27,69.54 L418.88,69.52 L419.49,69.51 L420.10,69.49 L420.71,69.49 L421.32,69.48 L421.93,69.48 L422.54,69.48 L423.15,69.48 L423.76,69.48 L424.38,69.48"/><path d="M180.00,210.19 L180.61,210.18 L181.22,210.16 L181.83,210.13 L182.44,210.09 L183.05,210.03 L183.67,209.96 L184.28,209.88 L184.89,209.79 L185.50,209.69 L186.11,209.58 L186.72,209.45 L187.33,209.31 L187.94,209.15 L188.55,208.99 L189.16,208.81 L189.78,208.61 L190.39,208.41 L191.00,208.19 L191.61,207.95 L192.22,207.71 L192.83,207.45 L193.44,207.19 L194.05,206.93 L194.66,206.67 L195.27,206.41 L195.88,206.14 L196.50,205.87 L197.11,205.60 L197.72,205.33 L198.33,205.06 L198.94,204.78 L199.55,204.51 L200.16,204.23 L200.77,203.94 L201.38,203.66 L201.99,203.38 L202.60,203.09 L203.22,202.80 L203.83,202.51 L204.44,202.21 L205.05,201.92 L205.66,201.62 L206.27,201.32 L206.88,201.02 L207.49,200.72 L208.10,200.42 L208.71,200.11 L209.32,199.80 L209.94,199.49 L210.55,199.18 L211.16,198.87 L211.77,198.55 L212.38,198.23 L212.99,197.92 L213.60,197.59 L214.21,197.27 L214.82,196.95 L215.43,196.62 L216.05,196.29 L216.66,195.97 L217.27,195.63 L217.88,195.30 L218.49,194.97 L219.10,194.63 L219.71,194.29 L220.32,193.95 L220.93,193.61 L221.54,193.27 L222.15,192.92 L222.77,192.58 L223.38,192.23 L223.99,191.88 L224.60,191.53 L225.21,191.18 L225.82,190.82 L226.43,190.47 L227.04,190.11 L227.65,189.75 L228.26,189.39 L228.88,189.03 L229.49,188.66 L230.10,188.30 L230.71,187.93 L231.32,187.56 L231.93,187.19 L232.54,186.82 L233.15,186.45 L233.76,186.07 L234.37,185.70 L234.98,185.32 L235.60,184.94 L236.21,184.56 L236.82,184.18 L237.43,183.80 L238.04,183.41 L238.65,183.03 L239.26,182.64 L239.87,182.25 L240.48,181.86 L241.09,181.47 L241.70,181.07 L242.32,180.68 L242.93,180.28 L243.54,179.89 L244.15,179.49 L244.76,179.09 L245.37,178.69 L245.98,178.28 L246.59,177.88 L247.20,177.48 L247.81,177.07 L248.43,176.66 L249.04,176.25 L249.65,175.84 L250.26,175.43 L250.87,175.02 L251.48,174.60 L252.09,174.19 L252.70,173.77 L253.31,173.35 L253.92,172.93 L254.53,172.51 L255.15,172.09 L255.76,171.67 L256.37,171.24 L256.98,170.82 L257.59,170.39 L258.20,169.97 L258.81,169.54 L259.42,169.11 L260.03,168.68 L260.64,168.24 L261.25,167.81 L261.87,167.38 L262.48,166.94 L263.09,166.51 L263.70,166.07 L264.31,165.63 L264.92,165.19 L265.53,164.75 L266.14,164.31 L266.75,163.86 L267.36,163.42 L267.98,162.98 L268.59,162.53 L269.20,162.08 L269.81,161.63 L270.42,161.19 L271.03,160.74 L271.64,160.28 L272.25,159.83 L272.86,159.38 L273.47,158.93 L274.08,158.47 L274.70,158.02 L275.31,157.56 L275.92,157.10 L276.53,156.64 L277.14,156.18 L277.75,155.72 L278.36,155.26 L278.97,154.80 L279.58,154.34 L280.19,153.87 L280.80,153.41 L281.42,152.94 L282.03,152.48 L282.64,152.01 L283.25,151.54 L283.86,151.07 L284.47,150.60 L285.08,150.13 L285.69,149.66 L286.30,149.19 L286.91,148.72 L287.52,148.25 L288.14,147.77 L288.75,147.30 L289.36,146.82 L289.97,146.34 L290.58,145.87 L291.19,145.39 L291.80,144.91 L292.41,144.43 L293.02,143.95 L293.63,143.47 L294.25,142.99 L294.86,142.51 L295.47,142.03 L296.08,141.54 L296.69,141.06 L297.30,140.57 L297.91,140.09 L298.52,139.60 L299.13,139.12 L299.74,138.63 L300.35,138.14 L300.97,137.65 L301.58,137.17 L302.19,136.68 L302.80,136.19 L303.41,135.70 L304.02,135.21 L304.63,134.71 L305.24,134.22 L305.85,133.73 L306.46,133.24 L307.07,132.74 L307.69,132.25 L308.30,131.76 L308.91,131.26 L309.52,130.77 L310.13,130.27 L310.74,129.77 L311.35,129.28 L311.96,128.78 L312.57,128.28 L313.18,127.79 L313.80,127.29 L314.41,126.79 L315.02,126.29 L315.63,125.79 L316.24,125.29 L316.85,124.79 L317.46,124.29 L318.07,123.79 L318.68,123.29 L319.29,122.79 L319.90,122.29 L320.52,121.78 L321.13,121.28 L321.74,120.78 L322.35,120.27 L322.96,119.77 L323.57,119.27 L324.18,118.76 L324.79,118.26 L325.40,117.76 L326.01,117.25 L326.62,116.75 L327.24,116.24 L327.85,115.74 L328.46,115.23 L329.07,114.73 L329.68,114.22 L330.29,113.71 L330.90,113.21 L331.51,112.70 L332.12,112.20 L332.73,111.69 L333.35,111.18 L333.96,110.68 L334.57,110.17 L335.18,109.66 L335.79,109.15 L336.40,108.65 L337.01,108.14 L337.62,107.63 L338.23,107.13 L338.84,106.62 L339.45,106.11 L340.07,105.60 L340.68,105.10 L341.29,104.59 L341.90,104.08 L342.51,103.58 L343.12,103.08 L343.73,102.58 L344.34,102.09 L344.95,101.60 L345.56,101.11 L346.18,100.63 L346.79,100.15 L347.40,99.67 L348.01,99.20 L348.62,98.72 L349.23,98.26 L349.84,97.79 L350.45,97.33 L351.06,96.87 L351.67,96.42 L352.28,95.97 L352.90,95.52 L353.51,95.08 L354.12,94.64 L354.73,94.20 L355.34,93.77 L355.95,93.34 L356.56,92.91 L357.17,92.49 L357.78,92.07 L358.39,91.65 L359.00,91.24 L359.62,90.83 L360.23,90.42 L360.84,90.02 L361.45,89.62 L362.06,89.23 L362.67,88.84 L363.28,88.45 L363.89,88.06 L364.50,87.68 L365.11,87.31 L365.73,86.93 L366.34,86.56 L366.95,86.20 L367.56,85.84 L368.17,85.48 L368.78,85.12 L369.39,84.77 L370.00,84.43 L370.61,84.08 L371.22,83.74 L371.83,83.41 L372.45,83.08 L373.06,82.75 L373.67,82.42 L374.28,82.10 L374.89,81.79 L375.50,81.47 L376.11,81.16 L376.72,80.86 L377.33,80.56 L377.94,80.26 L378.55,79.97 L379.17,79.68 L379.78,79.39 L380.39,79.11 L381.00,78.83 L381.61,78.56 L382.22,78.29 L382.83,78.02 L383.44,77.76 L384.05,77.50 L384.66,77.25 L385.27,77.00 L385.89,76.75 L386.50,76.51 L387.11,76.27 L387.72,76.04 L388.33,75.80 L388.94,75.58 L389.55,75.36 L390.16,75.14 L390.77,74.92 L391.38,74.71 L392.00,74.51 L392.61,74.31 L393.22,74.11 L393.83,73.91 L394.44,73.72 L395.05,73.54 L395.66,73.36 L396.27,73.18 L396.88,73.01 L397.49,72.84 L398.10,72.67 L398.72,72.51 L399.33,72.35 L399.94,72.20 L400.55,72.05 L401.16,71.91 L401.77,71.77 L402.38,71.63 L402.99,71.50 L403.60,71.37 L404.21,71.25 L404.83,71.13 L405.44,71.01 L406.05,70.90 L406.66,70.79 L407.27,70.69 L407.88,70.59 L408.49,70.50 L409.10,70.41 L409.71,70.32 L410.32,70.24 L410.93,70.16 L411.55,70.09 L412.16,70.02 L412.77,69.95 L413.38,69.89 L413.99,69.84 L414.60,69.78 L415.21,69.73 L415.82,69.69 L416.43,69.65 L417.04,69.61 L417.65,69.58 L418.27,69.56 L418.88,69.53 L419.49,69.51 L420.10,69.50 L420.71,69.49 L421.32,69.48 L421.93,69.48 L422.54,69.48 L423.15,69.48 L423.76,69.48 L424.38,69.48"/>
</g>
<g stroke="#1414f5" fill="#1414f5">
<path d="M192.3,60V80" stroke-width="1.4" fill="none"/>
<path d="M192.3,52.6L195.3,62.3L192.3,61.6L189.3,62.3Z" stroke="none"/>
<path d="M192.3,87.1L195.3,77.1L192.3,77.8L189.3,77.1Z" stroke="none"/>
</g>
<path d="M186.11,211.35v-3.4M186.11,48.4v3.4M192.22,211.35v-3.4M192.22,48.4v3.4M198.33,211.35v-3.4M198.33,48.4v3.4M204.44,211.35v-3.4M204.44,48.4v3.4M210.55,211.35v-3.4M210.55,48.4v3.4M216.66,211.35v-3.4M216.66,48.4v3.4M222.77,211.35v-3.4M222.77,48.4v3.4M228.88,211.35v-7.2M228.88,48.4v7.2M234.98,211.35v-3.4M234.98,48.4v3.4M241.09,211.35v-3.4M241.09,48.4v3.4M247.20,211.35v-3.4M247.20,48.4v3.4M253.31,211.35v-3.4M253.31,48.4v3.4M259.42,211.35v-3.4M259.42,48.4v3.4M265.53,211.35v-3.4M265.53,48.4v3.4M271.64,211.35v-3.4M271.64,48.4v3.4M277.75,211.35v-7.2M277.75,48.4v7.2M283.86,211.35v-3.4M283.86,48.4v3.4M289.97,211.35v-3.4M289.97,48.4v3.4M296.08,211.35v-3.4M296.08,48.4v3.4M302.19,211.35v-3.4M302.19,48.4v3.4M308.30,211.35v-3.4M308.30,48.4v3.4M314.41,211.35v-3.4M314.41,48.4v3.4M320.52,211.35v-3.4M320.52,48.4v3.4M326.62,211.35v-7.2M326.62,48.4v7.2M332.73,211.35v-3.4M332.73,48.4v3.4M338.84,211.35v-3.4M338.84,48.4v3.4M344.95,211.35v-3.4M344.95,48.4v3.4M351.06,211.35v-3.4M351.06,48.4v3.4M357.17,211.35v-3.4M357.17,48.4v3.4M363.28,211.35v-3.4M363.28,48.4v3.4M369.39,211.35v-3.4M369.39,48.4v3.4M375.50,211.35v-7.2M375.50,48.4v7.2M381.61,211.35v-3.4M381.61,48.4v3.4M387.72,211.35v-3.4M387.72,48.4v3.4M393.83,211.35v-3.4M393.83,48.4v3.4M399.94,211.35v-3.4M399.94,48.4v3.4M406.05,211.35v-3.4M406.05,48.4v3.4M412.16,211.35v-3.4M412.16,48.4v3.4M418.27,211.35v-3.4M418.27,48.4v3.4M180.0,206.76h3.6M424.38,206.76h-3.6M180.0,202.47h3.6M424.38,202.47h-3.6M180.0,198.18h3.6M424.38,198.18h-3.6M180.0,193.89h3.6M424.38,193.89h-3.6M180.0,189.60h7.2M424.38,189.60h-7.2M180.0,185.31h3.6M424.38,185.31h-3.6M180.0,181.02h3.6M424.38,181.02h-3.6M180.0,176.73h3.6M424.38,176.73h-3.6M180.0,172.44h3.6M424.38,172.44h-3.6M180.0,168.15h7.2M424.38,168.15h-7.2M180.0,163.86h3.6M424.38,163.86h-3.6M180.0,159.57h3.6M424.38,159.57h-3.6M180.0,155.28h3.6M424.38,155.28h-3.6M180.0,150.99h3.6M424.38,150.99h-3.6M180.0,146.70h7.2M424.38,146.70h-7.2M180.0,142.41h3.6M424.38,142.41h-3.6M180.0,138.12h3.6M424.38,138.12h-3.6M180.0,133.83h3.6M424.38,133.83h-3.6M180.0,129.54h3.6M424.38,129.54h-3.6M180.0,125.25h7.2M424.38,125.25h-7.2M180.0,120.96h3.6M424.38,120.96h-3.6M180.0,116.67h3.6M424.38,116.67h-3.6M180.0,112.38h3.6M424.38,112.38h-3.6M180.0,108.09h3.6M424.38,108.09h-3.6M180.0,103.80h7.2M424.38,103.80h-7.2M180.0,99.51h3.6M424.38,99.51h-3.6M180.0,95.22h3.6M424.38,95.22h-3.6M180.0,90.93h3.6M424.38,90.93h-3.6M180.0,86.64h3.6M424.38,86.64h-3.6M180.0,82.35h7.2M424.38,82.35h-7.2M180.0,78.06h3.6M424.38,78.06h-3.6M180.0,73.77h3.6M424.38,73.77h-3.6M180.0,69.48h3.6M424.38,69.48h-3.6M180.0,65.19h3.6M424.38,65.19h-3.6M180.0,60.90h7.2M424.38,60.90h-7.2M180.0,56.61h3.6M424.38,56.61h-3.6M180.0,52.32h3.6M424.38,52.32h-3.6" stroke="#000" stroke-width="0.75" fill="none"/>
<rect x="180.0" y="48.4" width="244.38" height="162.95" fill="none" stroke="#000" stroke-width="0.55"/>
<text transform="translate(169.61,214.85) scale(1.175,1)" font-size="11.50px"  fill="#000">0</text><text transform="translate(169.61,214.85) scale(1.175,1)" font-size="11.50px"  fill="#000" stroke="#000" stroke-width="0.3" opacity="0.50">0</text>
<text transform="translate(163.53,193.40) scale(1.110,1)" font-size="11.56px"  fill="#000">25</text><text transform="translate(163.53,193.40) scale(1.110,1)" font-size="11.56px"  fill="#000" stroke="#000" stroke-width="0.3" opacity="0.50">25</text>
<text transform="translate(163.34,171.95) scale(1.131,1)" font-size="11.50px"  fill="#000">50</text><text transform="translate(163.34,171.95) scale(1.131,1)" font-size="11.50px"  fill="#000" stroke="#000" stroke-width="0.3" opacity="0.50">50</text>
<text transform="translate(163.22,150.50) scale(1.125,1)" font-size="11.68px"  fill="#000">75</text><text transform="translate(163.22,150.50) scale(1.125,1)" font-size="11.68px"  fill="#000" stroke="#000" stroke-width="0.3" opacity="0.50">75</text>
<text transform="translate(156.92,129.05) scale(1.126,1)" font-size="11.50px"  fill="#000">100</text><text transform="translate(156.92,129.05) scale(1.126,1)" font-size="11.50px"  fill="#000" stroke="#000" stroke-width="0.3" opacity="0.50">100</text>
<text transform="translate(156.92,107.60) scale(1.121,1)" font-size="11.56px"  fill="#000">125</text><text transform="translate(156.92,107.60) scale(1.121,1)" font-size="11.56px"  fill="#000" stroke="#000" stroke-width="0.3" opacity="0.50">125</text>
<text transform="translate(156.92,86.15) scale(1.126,1)" font-size="11.50px"  fill="#000">150</text><text transform="translate(156.92,86.15) scale(1.126,1)" font-size="11.50px"  fill="#000" stroke="#000" stroke-width="0.3" opacity="0.50">150</text>
<text transform="translate(156.92,64.70) scale(1.118,1)" font-size="11.59px"  fill="#000">175</text><text transform="translate(156.92,64.70) scale(1.118,1)" font-size="11.59px"  fill="#000" stroke="#000" stroke-width="0.3" opacity="0.50">175</text>
<text transform="translate(176.28,222.15) scale(1.154,1)" font-size="11.50px"  fill="#000">0</text><text transform="translate(176.28,222.15) scale(1.154,1)" font-size="11.50px"  fill="#000" stroke="#000" stroke-width="0.3" opacity="0.50">0</text>
<text transform="translate(222.09,222.15) scale(1.104,1)" font-size="11.50px"  fill="#000">20</text><text transform="translate(222.09,222.15) scale(1.104,1)" font-size="11.50px"  fill="#000" stroke="#000" stroke-width="0.3" opacity="0.50">20</text>
<text transform="translate(271.27,222.15) scale(1.076,1)" font-size="11.50px"  fill="#000">40</text><text transform="translate(271.27,222.15) scale(1.076,1)" font-size="11.50px"  fill="#000" stroke="#000" stroke-width="0.3" opacity="0.50">40</text>
<text transform="translate(319.85,222.15) scale(1.103,1)" font-size="11.50px"  fill="#000">60</text><text transform="translate(319.85,222.15) scale(1.103,1)" font-size="11.50px"  fill="#000" stroke="#000" stroke-width="0.3" opacity="0.50">60</text>
<text transform="translate(368.79,222.15) scale(1.097,1)" font-size="11.50px"  fill="#000">80</text><text transform="translate(368.79,222.15) scale(1.097,1)" font-size="11.50px"  fill="#000" stroke="#000" stroke-width="0.3" opacity="0.50">80</text>
<text transform="translate(414.00,222.15) scale(1.119,1)" font-size="11.50px"  fill="#000">100</text><text transform="translate(414.00,222.15) scale(1.119,1)" font-size="11.50px"  fill="#000" stroke="#000" stroke-width="0.3" opacity="0.50">100</text>
<path d="M202.2,71.9V83.8M223.6,71.9V83.8" stroke="#1414f5" stroke-width="1" fill="none"/>
<text transform="translate(205.66,80.30) scale(1.286,1)" font-size="10.46px" font-style="italic" font-weight="bold" fill="#1414f5">μ</text>
<text transform="translate(213.37,82.30) scale(1.278,1)" font-size="7.63px" font-style="italic" font-weight="bold" fill="#1414f5">H</text>
<text transform="translate(229.12,104.30) scale(1.555,1)" font-size="10.68px" font-style="italic" fill="#10a018">μ</text><text transform="translate(229.12,104.30) scale(1.555,1)" font-size="10.68px" font-style="italic" fill="#10a018" stroke="#10a018" stroke-width="0.3" opacity="0.67">μ</text>
<text transform="translate(237.69,106.60) scale(1.528,1)" font-size="7.79px" font-style="italic" fill="#10a018">B</text><text transform="translate(237.69,106.60) scale(1.528,1)" font-size="7.79px" font-style="italic" fill="#10a018" stroke="#10a018" stroke-width="0.3" opacity="0.67">B</text>
<text transform="translate(272.02,168.90) scale(1.550,1)" font-size="10.02px" font-style="italic" fill="#fd4108">μ</text>
<text transform="translate(279.86,171.50) scale(1.510,1)" font-size="7.85px" font-style="italic" fill="#fd4108">S</text>
<g fill="none" stroke="#000" stroke-linecap="round" stroke-linejoin="round"><path d="M274.3,232.1C274.6,230.5 275.8,230.1 277.6,230.1C279.6,230.1 282.0,230.2 284.0,229.4" stroke-width="1.05"/><path d="M280.0,230.4L277.1,236.9" stroke-width="1.55"/><path d="M275.4,237.3H279.4" stroke-width="0.9"/></g>
<text transform="translate(280.57,238.50) scale(1.091,1)" font-size="8.07px"  fill="#000">c</text><text transform="translate(280.57,238.50) scale(1.091,1)" font-size="8.07px"  fill="#000" stroke="#000" stroke-width="0.3" opacity="0.25">c</text>
<text transform="translate(284.68,238.50) scale(1.321,1)" font-size="8.07px"  fill="#000">m</text><text transform="translate(284.68,238.50) scale(1.321,1)" font-size="8.07px"  fill="#000" stroke="#000" stroke-width="0.3" opacity="0.25">m</text>
<text transform="translate(298.04,237.40) scale(1.090,1)" font-size="11.93px"  fill="#000">[GeV]</text><text transform="translate(298.04,237.40) scale(1.090,1)" font-size="11.93px"  fill="#000" stroke="#000" stroke-width="0.3" opacity="0.33">[GeV]</text>
<text transform="translate(151.6,152.5) rotate(-90) translate(-0.48,0.00) scale(1.447,1)" font-size="11.76px" font-style="italic" fill="#000">μ</text><text transform="translate(151.6,152.5) rotate(-90) translate(-0.48,0.00) scale(1.447,1)" font-size="11.76px" font-style="italic" fill="#000" stroke="#000" stroke-width="0.3" opacity="0.50">μ</text>
<text transform="translate(151.6,152.5) rotate(-90) translate(13.04,0.00) scale(1.080,1)" font-size="12.01px"  fill="#000">[GeV]</text><text transform="translate(151.6,152.5) rotate(-90) translate(13.04,0.00) scale(1.080,1)" font-size="12.01px"  fill="#000" stroke="#000" stroke-width="0.3" opacity="0.33">[GeV]</text>
</svg>
</body></html>
